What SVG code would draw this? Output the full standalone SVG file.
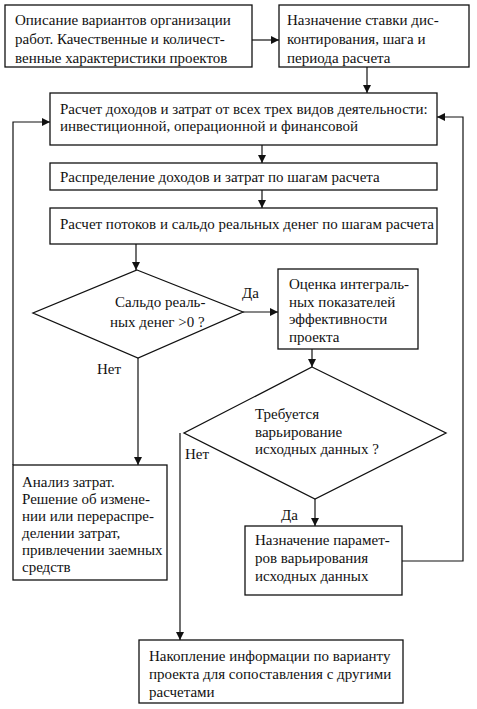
<svg xmlns="http://www.w3.org/2000/svg" width="477" height="709" viewBox="0 0 477 709" font-family="Liberation Serif, Times New Roman, Times, serif" font-size="15">
<defs>
<marker id="ah" viewBox="0 0 10 10" refX="10" refY="5" markerWidth="8" markerHeight="8" markerUnits="userSpaceOnUse" orient="auto">
<path d="M0,0 L10,5 L0,10 z" fill="#111"/>
</marker>
</defs>
<style>
.box{fill:#fff;stroke:#111;stroke-width:1.3}
text{fill:#111}
.c{fill:none;stroke:#111;stroke-width:1.2}
</style>
<rect width="477" height="709" fill="#fff"/>
<g id="connectors">
<path class="c" d="M252,40 H279" marker-end="url(#ah)"/>
<path class="c" d="M367,67 V93" marker-end="url(#ah)"/>
<path class="c" d="M262,145 V163" marker-end="url(#ah)"/>
<path class="c" d="M262,190 V208" marker-end="url(#ah)"/>
<path class="c" d="M136,244 V270" marker-end="url(#ah)"/>
<path class="c" d="M243,312 H278" marker-end="url(#ah)"/>
<path class="c" d="M312,349 V367" marker-end="url(#ah)"/>
<path class="c" d="M138,358 V465" marker-end="url(#ah)"/>
<path class="c" d="M315,499 V526" marker-end="url(#ah)"/>
<path class="c" d="M180,433 V640" marker-end="url(#ah)"/>
<path class="c" d="M13,465 V122 H50" marker-end="url(#ah)"/>
<path class="c" d="M402,561 H463 V117 H437" marker-end="url(#ah)"/>
<text x="242" y="298">Да</text>
<text x="97" y="374">Нет</text>
<text x="185" y="459">Нет</text>
<text x="281" y="520">Да</text>
</g>
<g id="n1">
<rect class="box" x="5" y="5" width="247" height="62"/>
<text x="15" y="25">Описание вариантов организации</text>
<text x="15" y="44">работ. Качественные и количест-</text>
<text x="15" y="63">венные характеристики проектов</text>
</g>
<g id="n2">
<rect class="box" x="279" y="5" width="190" height="62"/>
<text x="287" y="25">Назначение ставки дис-</text>
<text x="287" y="44">контирования, шага и</text>
<text x="287" y="63">периода расчета</text>
</g>
<g id="n3">
<rect class="box" x="50" y="93" width="387" height="52"/>
<text x="60" y="114">Расчет доходов и затрат от всех трех видов деятельности:</text>
<text x="60" y="131">инвестиционной, операционной и финансовой</text>
</g>
<g id="n4">
<rect class="box" x="50" y="163" width="387" height="27"/>
<text x="60" y="182">Распределение доходов и затрат по шагам расчета</text>
</g>
<g id="n5">
<rect class="box" x="50" y="208" width="387" height="36"/>
<text x="60" y="229">Расчет потоков и сальдо реальных денег по шагам расчета</text>
</g>
<g id="d1">
<polygon class="box" points="137,270 243,312 138,358 33,313"/>
<text x="115" y="307">Сальдо реаль-</text>
<text x="110" y="327">ных  денег &gt;0 ?</text>
</g>
<g id="n6">
<rect class="box" x="278" y="269" width="140" height="80"/>
<text x="289" y="289">Оценка интеграль-</text>
<text x="289" y="307">ных показателей</text>
<text x="289" y="324">эффективности</text>
<text x="289" y="342">проекта</text>
</g>
<g id="d2">
<polygon class="box" points="312,367 446,433 315,499 184,433"/>
<text x="255" y="419">Требуется</text>
<text x="255" y="437">варьирование</text>
<text x="255" y="454">исходных данных ?</text>
</g>
<g id="n7">
<rect class="box" x="13" y="465" width="154" height="115"/>
<text x="22" y="487">Анализ затрат.</text>
<text x="22" y="504">Решение об измене-</text>
<text x="22" y="521">нии или перераспре-</text>
<text x="22" y="538">делении затрат,</text>
<text x="22" y="555">привлечении заемных</text>
<text x="22" y="572">средств</text>
</g>
<g id="n8">
<rect class="box" x="245" y="526" width="157" height="69"/>
<text x="255" y="545">Назначение парамет-</text>
<text x="255" y="563">ров варьирования</text>
<text x="255" y="581">исходных данных</text>
</g>
<g id="n9">
<rect class="box" x="139" y="640" width="264" height="63"/>
<text x="149" y="661">Накопление информации по варианту</text>
<text x="149" y="679">проекта для сопоставления с другими</text>
<text x="149" y="697">расчетами</text>
</g>
</svg>
